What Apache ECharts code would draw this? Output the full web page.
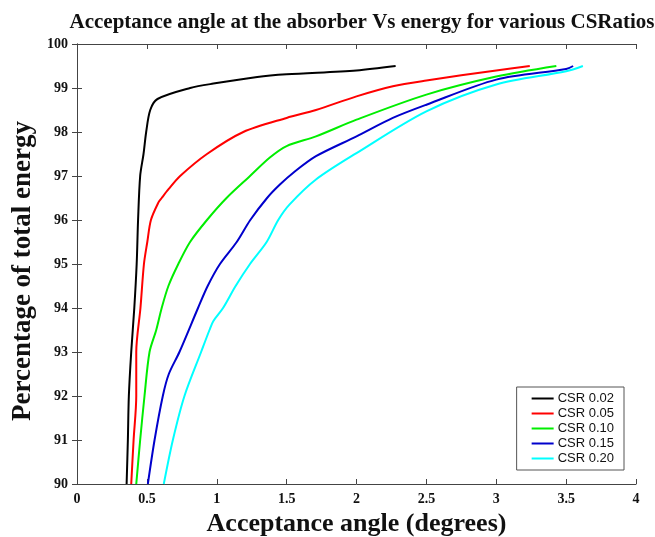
<!DOCTYPE html>
<html>
<head>
<meta charset="utf-8">
<script src="https://cdn.jsdelivr.net/npm/echarts@6/dist/echarts.min.js"></script>
<style>
  html, body { margin: 0; padding: 0; background: #fff; }
  #chart { width: 655px; height: 537px; }
</style>
</head>
<body>
<div id="chart"></div>
<script>
  // acceptance angle (deg) vs percentage of total energy, one pair of arrays per CSR
  const csr002Angle = [0.355, 0.364, 0.371, 0.388, 0.41, 0.427, 0.437, 0.452, 0.476, 0.495, 0.524, 0.576, 0.81, 0.976, 1.29, 1.5, 2.0, 2.28];
  const csr002Pct   = [90, 91, 92, 93, 94, 95, 96, 97, 97.5, 98, 98.5, 98.75, 99, 99.1, 99.25, 99.31, 99.4, 99.5];

  const csr005Angle = [0.388, 0.405, 0.424, 0.424, 0.454, 0.479, 0.503, 0.529, 0.583, 0.606, 0.655, 0.738, 0.93, 1.19, 1.5, 1.71, 2.0, 2.26, 2.5, 3.0, 3.24];
  const csr005Pct   = [90, 91, 92, 93, 94, 95, 95.5, 96, 96.4, 96.5, 96.7, 97, 97.5, 98, 98.32, 98.5, 98.81, 99.04, 99.17, 99.4, 99.5];

  const csr010Angle = [0.424, 0.452, 0.483, 0.519, 0.567, 0.606, 0.654, 0.725, 0.809, 0.93, 1.07, 1.238, 1.38, 1.5, 1.71, 2.0, 2.5, 3.0, 3.43];
  const csr010Pct   = [90, 91, 92, 93, 93.5, 94, 94.5, 95, 95.5, 96, 96.5, 97, 97.42, 97.68, 97.9, 98.28, 98.85, 99.26, 99.5];

  const csr015Angle = [0.507, 0.555, 0.614, 0.657, 0.733, 0.866, 0.935, 1.023, 1.143, 1.24, 1.36, 1.45, 1.55, 1.71, 2.0, 2.26, 2.5, 3.0, 3.5, 3.55];
  const csr015Pct   = [90, 91, 92, 92.5, 93, 94, 94.5, 95, 95.5, 96, 96.5, 96.8, 97.08, 97.45, 97.9, 98.32, 98.62, 99.19, 99.43, 99.5];

  const csr020Angle = [0.621, 0.686, 0.769, 0.888, 0.948, 0.975, 1.045, 1.135, 1.238, 1.357, 1.44, 1.52, 1.71, 2.0, 2.5, 3.0, 3.5, 3.62];
  const csr020Pct   = [90, 91, 92, 93, 93.5, 93.7, 94, 94.5, 95, 95.5, 96, 96.35, 96.92, 97.52, 98.47, 99.08, 99.38, 99.5];

  const seriesNames = ['CSR 0.02', 'CSR 0.05', 'CSR 0.10', 'CSR 0.15', 'CSR 0.20'];
  const seriesColors = ['#000000', '#ff0000', '#00ee00', '#0000cc', '#00ffff'];

  const allAngles = [csr002Angle, csr005Angle, csr010Angle, csr015Angle, csr020Angle];
  const allPcts = [csr002Pct, csr005Pct, csr010Pct, csr015Pct, csr020Pct];

  const serif = '"Liberation Serif", "Times New Roman", serif';
  const tickLabel = { color: '#111', fontFamily: serif, fontWeight: 'bold', fontSize: 14 };
  const axisLine = { show: true, lineStyle: { color: '#444', width: 1 } };
  const axisTick = { show: true, inside: true, length: 5, lineStyle: { color: '#444' } };

  const chart = echarts.init(document.getElementById('chart'));
  chart.setOption({
    animation: false,
    title: {
      text: 'Acceptance angle at the absorber Vs energy for various CSRatios',
      left: 357,
      textAlign: 'center',
      top: 7,
      textStyle: { fontFamily: serif, fontWeight: 'bold', fontSize: 21, color: '#111' }
    },
    grid: { left: 77, right: 19, top: 44, bottom: 53, outerBoundsMode: 'none', containLabel: false },
    legend: {
      orient: 'vertical',
      right: 31,
      bottom: 67,
      backgroundColor: '#fff',
      borderColor: '#555',
      borderWidth: 1,
      padding: [5, 10, 5, 15],
      itemGap: 2,
      itemWidth: 22,
      itemHeight: 2,
      icon: 'rect',
      textStyle: { fontFamily: '"Liberation Sans", Arial, sans-serif', fontSize: 13, color: '#111', padding: [0, 0, 0, -1] },
      data: seriesNames
    },
    xAxis: [{
      type: 'value', min: 0, max: 4, interval: 0.5,
      name: 'Acceptance angle (degrees)',
      nameLocation: 'middle', nameGap: 22,
      nameTextStyle: { fontFamily: serif, fontWeight: 'bold', fontSize: 26, color: '#111' },
      axisLine, axisTick, splitLine: { show: false },
      axisLabel: Object.assign({ margin: 8, formatter: v => String(v) }, tickLabel)
    }, {
      type: 'value', min: 0, max: 4, interval: 0.5, position: 'top',
      axisLine, axisTick, splitLine: { show: false }, axisLabel: { show: false }
    }],
    yAxis: [{
      type: 'value', min: 90, max: 100, interval: 1,
      name: 'Percentage of total energy',
      nameLocation: 'middle', nameGap: 40,
      nameTextStyle: { fontFamily: serif, fontWeight: 'bold', fontSize: 27, color: '#111', padding: [0, 14, 0, 0] },
      axisLine, axisTick, splitLine: { show: false },
      axisLabel: Object.assign({ margin: 9 }, tickLabel)
    }, {
      type: 'value', min: 90, max: 100, interval: 1, position: 'right',
      axisLine, axisTick, splitLine: { show: false }, axisLabel: { show: false }
    }],
    series: seriesNames.map((name, i) => ({
      name,
      type: 'line',
      showSymbol: false,
      smooth: 0.3,
      color: seriesColors[i],
      lineStyle: { width: 2, color: seriesColors[i] },
      data: allAngles[i].map((a, j) => [a, allPcts[i][j]])
    }))
  });
</script>
</body>
</html>
